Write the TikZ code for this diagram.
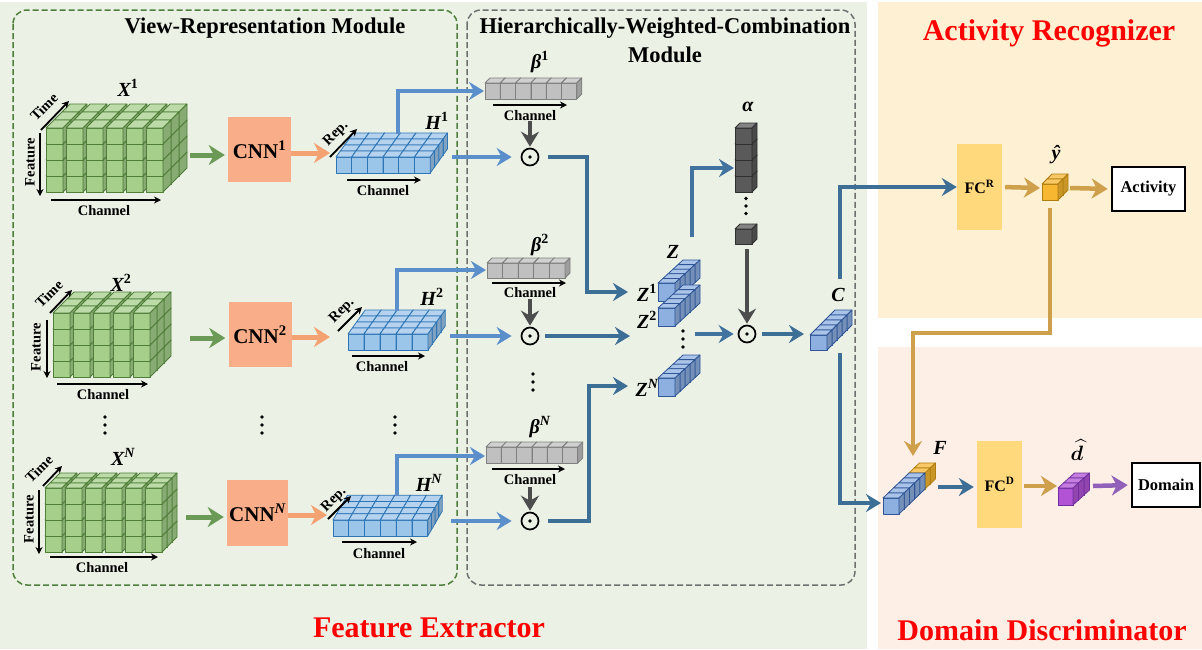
\documentclass[tikz,border=0pt]{standalone}
\usepackage{fontspec}
\setmainfont{Liberation Serif}
\usepackage{amsmath,bm}
\usetikzlibrary{arrows.meta}
\definecolor{bgG}{HTML}{EBF1E5}
\definecolor{bgA}{HTML}{FEF0D2}
\definecolor{bgD}{HTML}{FDEEE6}
\definecolor{dashG}{HTML}{4F7F3C}
\definecolor{dashK}{HTML}{707070}
\definecolor{cubeG}{HTML}{A6CF8C}
\definecolor{cubeGd}{HTML}{4E7E38}
\definecolor{cubeB}{HTML}{9CC5EA}
\definecolor{cubeBd}{HTML}{2E75B6}
\definecolor{cubeZ}{HTML}{8DB0E0}
\definecolor{cubeZd}{HTML}{2F5597}
\definecolor{cubeK}{HTML}{C0C0C0}
\definecolor{cubeKd}{HTML}{7F7F7F}
\definecolor{cubeA}{HTML}{5A5A5A}
\definecolor{cubeAd}{HTML}{303030}
\definecolor{cubeO}{HTML}{F7B731}
\definecolor{cubeOd}{HTML}{B07D10}
\definecolor{cubeP}{HTML}{B253D6}
\definecolor{cubePd}{HTML}{7030A0}
\definecolor{cnn}{HTML}{F9AD88}
\definecolor{fcc}{HTML}{FFD97C}
\definecolor{arG}{HTML}{6A9A55}
\definecolor{arO}{HTML}{F5A273}
\definecolor{arLB}{HTML}{5B8FCB}
\definecolor{arDB}{HTML}{3D6E96}
\definecolor{arK}{HTML}{4D4D4D}
\definecolor{arY}{HTML}{CFA04C}
\definecolor{arP}{HTML}{9160B8}
\newcommand\qqset[7]{\def\qqW{#1}\def\qqH{#2}\def\qqP{#3}\def\qqDX{#4}\def\qqDY{#5}\def\qqF{#6}\def\qqE{#7}}
\newcommand\qqcube[2]{%
  \filldraw[fill=\qqF,draw=\qqE,line width=0.8pt,line join=round] (#1,#2) rectangle ++(\qqW,\qqH);
  \filldraw[fill=\qqF!75!white,draw=\qqE,line width=0.8pt,line join=round] (#1,#2) -- ++(\qqDX,-\qqDY) -- ++(\qqW,0) -- ++(-\qqDX,\qqDY) -- cycle;
  \filldraw[fill=\qqF!82!black,draw=\qqE,line width=0.8pt,line join=round] (#1+\qqW,#2) -- ++(\qqDX,-\qqDY) -- ++(0,\qqH) -- ++(-\qqDX,\qqDY) -- cycle;
}
\newcommand\qqgrid[5]{%
 \foreach \dd in {#5,...,0}{\foreach \cc in {0,...,#3}{\foreach \rr in {#4,...,0}{%
   \pgfmathsetmacro\qqx{#1+\cc*\qqP+\dd*\qqDX}%
   \pgfmathsetmacro\qqy{#2+\rr*\qqH-\dd*\qqDY}%
   \qqcube{\qqx}{\qqy}}}}}
\newcommand\qqdots[3]{\fill (#1,#2-#3) circle (1.9); \fill (#1,#2) circle (1.9); \fill (#1,#2+#3) circle (1.9);}
\begin{document}
\begin{tikzpicture}[x=1pt,y=-1pt,
  title/.style={font=\fontsize{22.5}{24}\selectfont\bfseries, inner sep=0},
  rtitle/.style={font=\fontsize{30}{32}\selectfont\bfseries, text=red, inner sep=0},
  axlab/.style={font=\fontsize{14.5}{15}\selectfont\bfseries, inner sep=0},
  varlab/.style={font=\fontsize{20}{20}\selectfont\bfseries\itshape, inner sep=0},
  cnnbox/.style={fill=cnn, minimum width=63pt, minimum height=65pt, inner sep=0, font=\fontsize{21}{21}\selectfont\bfseries},
  fcbox/.style={fill=fcc, minimum width=45pt, minimum height=86pt, inner sep=0, font=\fontsize{16}{16}\selectfont\bfseries},
  outbox/.style={draw=black, line width=2.6pt, fill=white, minimum height=44pt, inner sep=0, font=\fontsize{16.5}{17}\selectfont\bfseries},
  odot/.style={circle, draw=black, line width=1.7pt, minimum size=17pt, inner sep=0},
  axarrow/.style={line width=1.8pt, -{Stealth[length=7pt,width=7pt]}},
  bigarrow/.style={line width=5pt, -{Stealth[length=16pt,width=20pt,inset=5pt]}},
  linarrow/.style={line width=4pt, -{Stealth[length=15pt,width=18pt,inset=5pt]}},
]
\useasboundingbox (0,0) rectangle (1202,649);
% panels
\fill[bgG] (0,2) rectangle (867,649);
\fill[bgA] (878,2) rectangle (1202,318);
\fill[bgD] (878,347) rectangle (1202,649);
\draw[dashG, line width=1.5pt, dash pattern=on 6pt off 3pt, rounded corners=14pt] (13,10) rectangle (457,585);
\draw[dashK, line width=1.5pt, dash pattern=on 6pt off 3pt, rounded corners=14pt] (467,10) rectangle (855,585);
% titles
\node[title] (tVRM) at (265,28) {View-Representation Module};
\node[title] (tHWC) at (665,28) {Hierarchically-Weighted-Combination};
\node[title] (tHWCb) at (665,55) {Module};
\node[rtitle] (tAR) at (1049,33) {Activity Recognizer};
\node[rtitle] (tFE) at (429,628) {Feature Extractor};
\node[rtitle] (tDD) at (1042,630) {Domain Discriminator};

% ---------------- X blocks
\qqset{17}{16}{20}{8}{8}{cubeG}{cubeGd}
\qqgrid{46}{128}{5}{3}{2}
\qqset{17}{16}{20}{7}{7}{cubeG}{cubeGd}
\qqgrid{53}{313}{4}{3}{2}
\qqset{17}{16}{20}{5}{5}{cubeG}{cubeGd}
\qqgrid{45}{488}{5}{3}{2}
\node[varlab] (lx1) at (128,88) {X\textsuperscript{\upshape 1}};
\node[varlab] (lx2) at (121,283) {X\textsuperscript{\upshape 2}};
\node[varlab] (lxN) at (123,457) {X\textsuperscript{N}};
% axes row 1
\coordinate (t1a) at (41,130); \coordinate (t1b) at (69,101);
\draw[axarrow] (t1a) -- (t1b);
\node[axlab, rotate=45] (tm1) at (44,107) {Time};
\coordinate (f1a) at (40,133); \coordinate (f1b) at (40,196);
\draw[axarrow] (f1a) -- (f1b);
\node[axlab, rotate=90] (ft1) at (30,162) {Feature};
\coordinate (c1a) at (51,200); \coordinate (c1b) at (161,200);
\draw[axarrow] (c1a) -- (c1b);
\node[axlab] (ch1) at (104,211) {Channel};
% axes row 2
\coordinate (t2a) at (50,313); \coordinate (t2b) at (72,290);
\draw[axarrow] (t2a) -- (t2b);
\node[axlab, rotate=45] (tm2) at (49,294) {Time};
\coordinate (f2a) at (47,320); \coordinate (f2b) at (47,378);
\draw[axarrow] (f2a) -- (f2b);
\node[axlab, rotate=90] (ft2) at (36,347) {Feature};
\coordinate (c2a) at (57,384); \coordinate (c2b) at (148,384);
\draw[axarrow] (c2a) -- (c2b);
\node[axlab] (ch2) at (103,395) {Channel};
% axes row N
\coordinate (tNa) at (43,486); \coordinate (tNb) at (62,466);
\draw[axarrow] (tNa) -- (tNb);
\node[axlab, rotate=45] (tmN) at (39,469) {Time};
\coordinate (fNa) at (39,490); \coordinate (fNb) at (39,554);
\draw[axarrow] (fNa) -- (fNb);
\node[axlab, rotate=90] (ftN) at (29,519) {Feature};
\coordinate (cNa) at (50,557); \coordinate (cNb) at (158,557);
\draw[axarrow] (cNa) -- (cNb);
\node[axlab] (chN) at (102,568) {Channel};
\qqdots{105}{425}{8}
\qqdots{262}{425}{8}
\qqdots{395}{425}{8}

% ---------------- CNN
\node[cnnbox] (cnn1) at (259.5,149.5) {CNN\textsuperscript{1}};
\node[cnnbox] (cnn2) at (260,334.5) {CNN\textsuperscript{2}};
\node[cnnbox, minimum width=61pt, minimum height=66pt] (cnnN) at (257.5,513) {CNN\textsuperscript{\itshape N}};
\coordinate (x1e) at (190,155); \coordinate (x2e) at (190,338); \coordinate (xNe) at (186,517);
\draw[bigarrow, arG, shorten >=3pt] (x1e) -- (cnn1.west |- x1e);
\draw[bigarrow, arG, shorten >=3pt] (x2e) -- (cnn2.west |- x2e);
\draw[bigarrow, arG, shorten >=3pt] (xNe) -- (cnnN.west |- xNe);
\coordinate (h1w) at (330,153); \coordinate (h2w) at (330,337); \coordinate (hNw) at (327,515);
\draw[bigarrow, arO] (cnn1.east |- h1w) -- (h1w);
\draw[bigarrow, arO] (cnn2.east |- h2w) -- (h2w);
\draw[bigarrow, arO] (cnnN.east |- hNw) -- (hNw);

% ---------------- H blocks
\qqset{15.7}{16}{15.7}{4.3}{6}{cubeB}{cubeBd}
\qqgrid{336}{157}{5}{0}{3}
\qqset{16}{16}{16}{4.3}{6}{cubeB}{cubeBd}
\qqgrid{348}{334}{4}{0}{3}
\qqset{15.8}{16}{15.8}{3.6}{6.2}{cubeB}{cubeBd}
\qqgrid{333}{520}{5}{0}{3}
\node[varlab] (lh1) at (437,121) {H\textsuperscript{\upshape 1}};
\node[varlab] (lh2) at (432,297) {H\textsuperscript{\upshape 2}};
\node[varlab] (lhN) at (429,483) {H\textsuperscript{N}};
\coordinate (r1a) at (330,157); \coordinate (r1b) at (357,129);
\draw[axarrow] (r1a) -- (r1b);
\node[axlab, rotate=45] (rp1) at (336,134) {Rep.};
\coordinate (r2a) at (338,331); \coordinate (r2b) at (362,307);
\draw[axarrow] (r2a) -- (r2b);
\node[axlab, rotate=45] (rp2) at (342,311) {Rep.};
\coordinate (rNa) at (328,519); \coordinate (rNb) at (351,496);
\draw[axarrow] (rNa) -- (rNb);
\node[axlab, rotate=45] (rpN) at (334,500) {Rep.};
\coordinate (hc1a) at (347,180); \coordinate (hc1b) at (421,180);
\draw[axarrow] (hc1a) -- (hc1b);
\node[axlab] (hch1) at (383,191) {Channel};
\coordinate (hc2a) at (352,356); \coordinate (hc2b) at (425,356);
\draw[axarrow] (hc2a) -- (hc2b);
\node[axlab] (hch2) at (382,367) {Channel};
\coordinate (hcNa) at (342,542); \coordinate (hcNb) at (417,542);
\draw[axarrow] (hcNa) -- (hcNb);
\node[axlab] (hchN) at (379,554) {Channel};

% ---------------- beta bars
\qqset{15.3}{16}{15.3}{5}{5}{cubeK}{cubeKd}
\qqgrid{485}{83}{5}{0}{0}
\qqset{15.6}{15}{15.6}{5}{5}{cubeK}{cubeKd}
\qqgrid{487}{263}{4}{0}{0}
\qqset{15.3}{16}{15.3}{5}{5}{cubeK}{cubeKd}
\qqgrid{486}{447}{5}{0}{0}
\node[varlab] (lb1) at (540,62) {β\textsuperscript{\upshape 1}};
\node[varlab] (lb2) at (540,245) {β\textsuperscript{\upshape 2}};
\node[varlab] (lbN) at (540,427) {β\textsuperscript{N}};
\coordinate (bc1a) at (493,105); \coordinate (bc1b) at (567,105);
\draw[axarrow] (bc1a) -- (bc1b);
\node[axlab] (bch1) at (530,116) {Channel};
\coordinate (bc2a) at (492,283); \coordinate (bc2b) at (566,283);
\draw[axarrow] (bc2a) -- (bc2b);
\node[axlab] (bch2) at (530,293) {Channel};
\coordinate (bcNa) at (492,469); \coordinate (bcNb) at (565,469);
\draw[axarrow] (bcNa) -- (bcNb);
\node[axlab] (bchN) at (530,480) {Channel};

% ---------------- odot nodes
\node[odot] (o1) at (530,157) {}; \fill (o1) circle (1.9);
\node[odot] (o2) at (530,336) {}; \fill (o2) circle (1.9);
\node[odot] (oN) at (530,521) {}; \fill (oN) circle (1.9);
\coordinate (g1) at (530,121); \coordinate (g2) at (530,299); \coordinate (gN) at (530,487);
\draw[linarrow, arK, shorten >=1pt] (g1) -- (o1.north);
\draw[linarrow, arK, shorten >=1pt] (g2) -- (o2.north);
\draw[linarrow, arK, shorten >=1pt] (gN) -- (oN.north);
\qqdots{533}{382}{8}

% H -> beta and H -> odot
\coordinate (h1t) at (398,134); \coordinate (b1w) at (484,91);
\coordinate (h2t) at (397,311); \coordinate (b2w) at (486,270);
\coordinate (hNt) at (397,496); \coordinate (bNw) at (485,456);
\draw[linarrow, arLB] (h1t) |- (b1w);
\draw[linarrow, arLB] (h2t) |- (b2w);
\draw[linarrow, arLB] (hNt) |- (bNw);
\coordinate (h1e) at (452,157); \coordinate (h2e) at (450,336); \coordinate (hNe) at (451,521);
\draw[linarrow, arLB, shorten >=9pt] (h1e) -- (o1.west);
\draw[linarrow, arLB, shorten >=9pt] (h2e) -- (o2.west);
\draw[linarrow, arLB, shorten >=9pt] (hNe) -- (oN.west);

% ---------------- Z stack
\qqset{17}{18}{17}{5}{4.6}{cubeZ}{cubeZd}
\qqgrid{658}{283}{0}{0}{4}
\qqgrid{658}{308}{0}{0}{4}
\qqgrid{658}{378}{0}{0}{4}
\node[varlab] (lz) at (673,252) {Z};
\node[varlab] (lz1) at (647,293) {Z\textsuperscript{\upshape 1}};
\node[varlab] (lz2) at (647,320) {Z\textsuperscript{\upshape 2}};
\node[varlab] (lzN) at (647,388) {Z\textsuperscript{N}};
\qqdots{683}{339}{8}
\coordinate (zj1) at (587,292); \coordinate (z1w) at (628,292);
\coordinate (z2w) at (630,336);
\coordinate (zjN) at (589,386); \coordinate (zNw) at (628,386);
\draw[linarrow, arDB, shorten <=9pt] (o1.east) -| (zj1) -- (z1w);
\draw[linarrow, arDB, shorten <=6pt] (o2.east) -- (z2w);
\draw[linarrow, arDB, shorten <=9pt] (oN.east) -| (zjN) -- (zNw);

% ---------------- alpha
\qqset{17}{16}{17}{5}{5}{cubeA}{cubeAd}
\qqgrid{735}{128}{0}{3}{0}
\qqset{17}{15}{17}{5}{5}{cubeA}{cubeAd}
\qqgrid{735}{229}{0}{0}{0}
\node[varlab] (la) at (748,107) {α};
\qqdots{746}{206}{7.5}
\coordinate (zt) at (692,237); \coordinate (aw) at (734,168);
\draw[linarrow, arDB!85!arLB] (zt) |- (aw);

% ---------------- combination odot and C
\node[odot] (oc) at (747,334) {}; \fill (oc) circle (1.9);
\coordinate (ab) at (747,249);
\draw[linarrow, arK, shorten >=1pt] (ab) -- (oc.north);
\coordinate (zs) at (695,334);
\draw[linarrow, arDB!85!arLB, shorten >=4pt] (zs) -- (oc.west);
\coordinate (cw) at (804,334);
\draw[linarrow, arDB, shorten <=6pt] (oc.east) -- (cw);
\qqset{17}{15}{17}{5}{5}{cubeZ}{cubeZd}
\qqgrid{810}{335}{0}{0}{4}
\node[varlab] (lc) at (838,295) {C};

% ---------------- activity recognizer
\node[fcbox] (fcr) at (979.5,187) {FC\textsuperscript{R}};
\coordinate (ct) at (840,279);
\draw[linarrow, arDB] (ct) |- (fcr.west);
\coordinate (yw) at (1040,188);
\draw[bigarrow, arY, line width=4.5pt, shorten <=3pt] (fcr.east) -- (yw);
\qqset{16}{16}{16}{5}{5}{cubeO}{cubeOd}
\qqgrid{1042}{184}{0}{0}{1}
\node[varlab] (ly) at (1056,155) {ŷ};
\node[outbox, minimum width=73pt] (act) at (1148.5,189) {Activity};
\coordinate (ye) at (1070,188);
\draw[bigarrow, arY, line width=4.5pt, shorten >=3pt] (ye) -- (act.west);

% ---------------- domain discriminator
\coordinate (ys) at (1050,208); \coordinate (gj) at (913,333); \coordinate (ftp) at (913,456);
\draw[linarrow, arY] (ys) |- (gj) -- (ftp);
\qqset{16}{16}{16}{5.2}{5}{cubeO}{cubeOd}
\foreach \kk in {6,5}{\pgfmathsetmacro\qqx{883+\kk*5.2}\pgfmathsetmacro\qqy{498-\kk*5}\qqcube{\qqx}{\qqy}}
\qqset{16}{16}{16}{5.2}{5}{cubeZ}{cubeZd}
\foreach \kk in {4,3,2,1,0}{\pgfmathsetmacro\qqx{883+\kk*5.2}\pgfmathsetmacro\qqy{498-\kk*5}\qqcube{\qqx}{\qqy}}
\node[varlab] (lf) at (940,448) {F};
\coordinate (cb) at (840,353); \coordinate (fw) at (881,503);
\draw[linarrow, arDB] (cb) |- (fw);
\node[fcbox, minimum height=87pt] (fcd) at (999.5,484.5) {FC\textsuperscript{D}};
\coordinate (fe) at (938,487);
\draw[linarrow, arDB, shorten >=3pt] (fe) -- (fcd.west |- fe);
\coordinate (dw) at (1057,486);
\draw[bigarrow, arY, line width=4.5pt, shorten <=2pt] (fcd.east |- dw) -- (dw);
\qqset{15}{17}{15}{5.5}{5}{cubeP}{cubePd}
\qqgrid{1058}{488}{0}{0}{2}
\node[varlab] (ld) at (1077,450) {$\widehat{\bm{d}}$};
\node[outbox, minimum width=68pt] (dom) at (1166,485) {Domain};
\coordinate (de) at (1093,486);
\draw[bigarrow, arP, line width=4.5pt, shorten >=3pt] (de) -- (dom.west);
\end{tikzpicture}
\end{document}
